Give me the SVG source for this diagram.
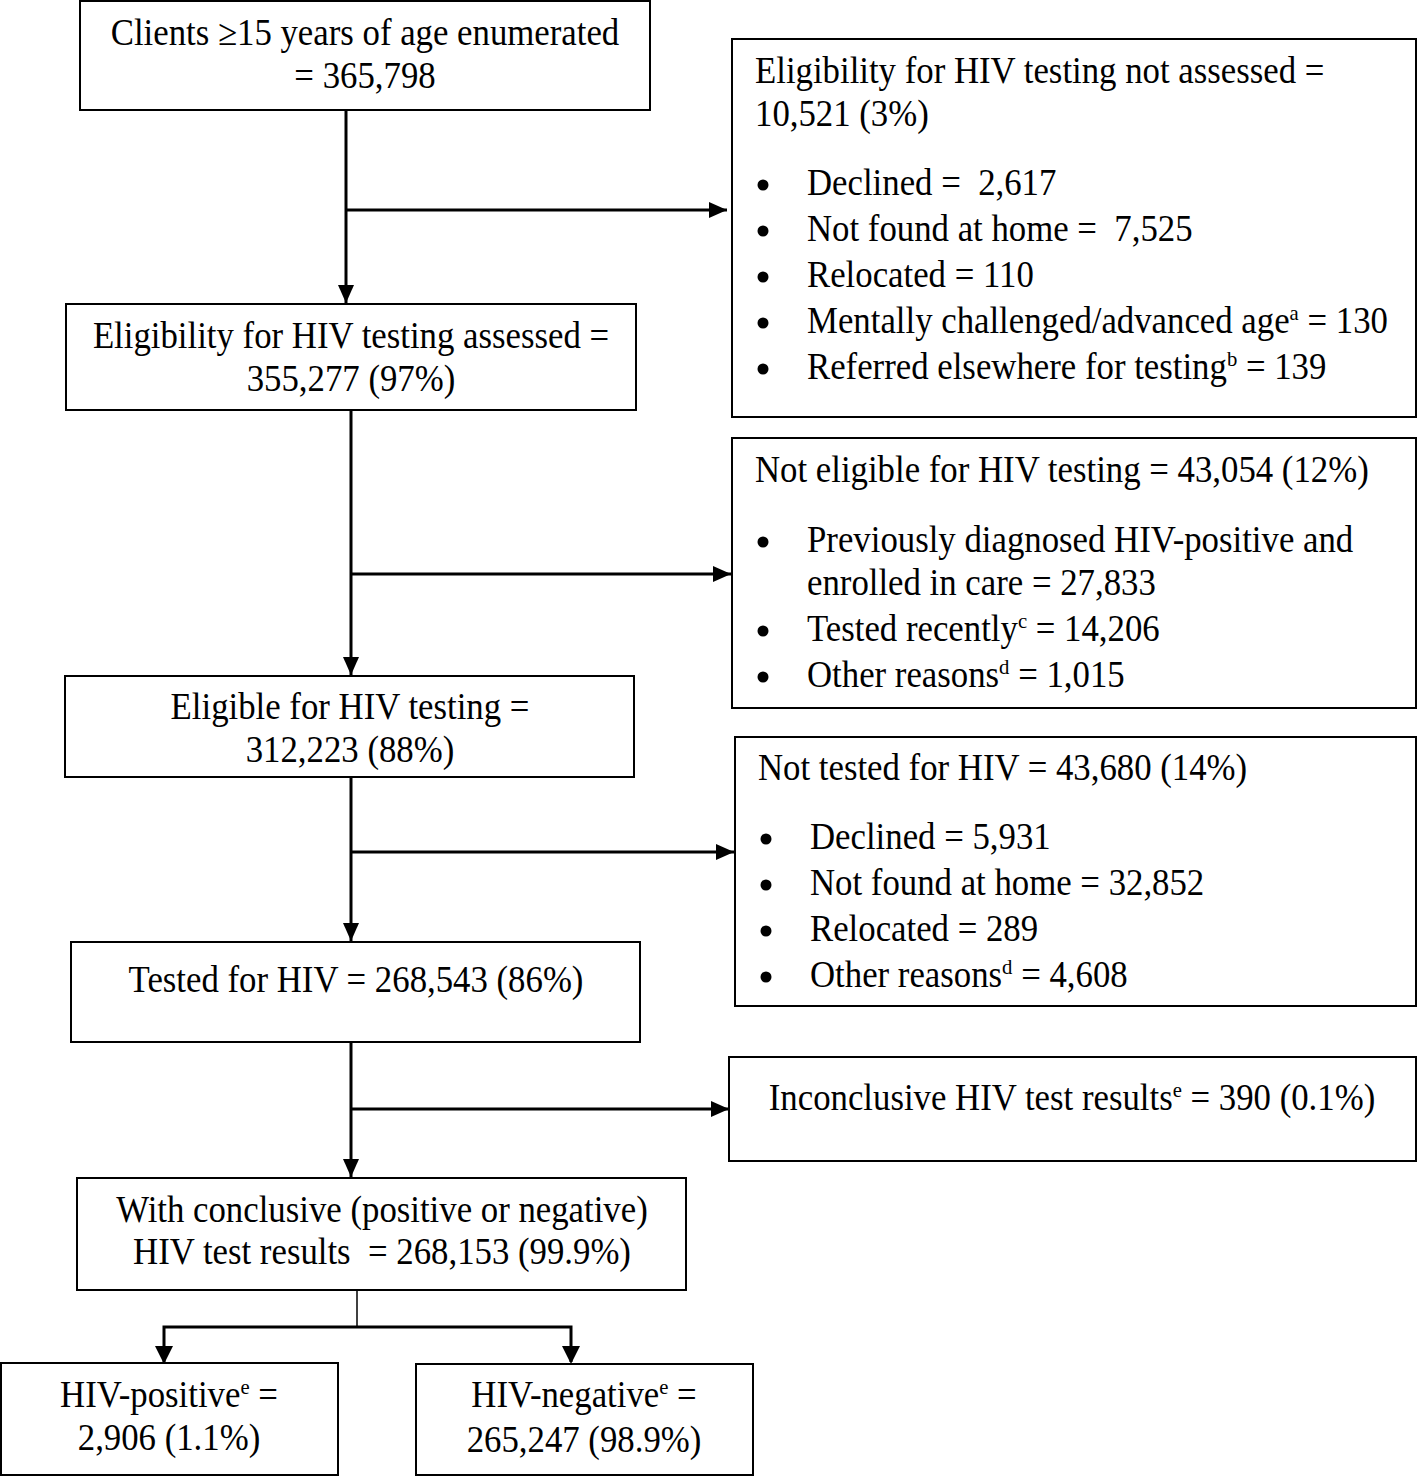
<svg xmlns="http://www.w3.org/2000/svg" width="1418" height="1477" viewBox="0 0 1418 1477">
<style>
.box{fill:#fff;stroke:#000;stroke-width:2}
text{font-family:"Liberation Serif","Times New Roman",serif;font-size:37px;fill:#000;white-space:pre}
.c{text-anchor:middle}
.sup{font-size:22px}
.con{stroke:#000;stroke-width:3;fill:none}
.thin{stroke:#000;stroke-width:1.5;fill:none}
.bul{fill:#000}
</style>
<defs>
<marker id="ah" markerUnits="userSpaceOnUse" markerWidth="20" markerHeight="16" refX="18" refY="8" orient="auto">
<path d="M0,0 L18,8 L0,16 Z" fill="#000"/>
</marker>
</defs>
<rect width="1418" height="1477" fill="#fff"/>

<g id="connectors">
<line class="con" x1="346" y1="110" x2="346" y2="303" marker-end="url(#ah)"/>
<line class="con" x1="346" y1="210" x2="727" y2="210" marker-end="url(#ah)"/>
<line class="con" x1="351" y1="410" x2="351" y2="675" marker-end="url(#ah)"/>
<line class="con" x1="351" y1="574" x2="731" y2="574" marker-end="url(#ah)"/>
<line class="con" x1="351" y1="777" x2="351" y2="941" marker-end="url(#ah)"/>
<line class="con" x1="351" y1="852" x2="734" y2="852" marker-end="url(#ah)"/>
<line class="con" x1="351" y1="1042" x2="351" y2="1177" marker-end="url(#ah)"/>
<line class="con" x1="351" y1="1109" x2="729" y2="1109" marker-end="url(#ah)"/>
<line class="thin" x1="357" y1="1290" x2="357" y2="1327"/>
<polyline class="con" points="164,1362 164,1327 571,1327 571,1362" stroke-width="2.5"/>
<path d="M155,1346 L173,1346 L164,1364 Z" fill="#000"/>
<path d="M562,1346 L580,1346 L571,1364 Z" fill="#000"/>
</g>

<g id="n1">
<rect class="box" x="80" y="1" width="570" height="109"/>
<text class="c" transform="translate(365,45) scale(0.94,1)">Clients ≥15 years of age enumerated</text>
<text class="c" transform="translate(365,88) scale(0.94,1)">= 365,798</text>
</g>

<g id="n2">
<rect class="box" x="732" y="39" width="684" height="378"/>
<text transform="translate(755,83) scale(0.94,1)">Eligibility for HIV testing not assessed =</text>
<text transform="translate(755,126) scale(0.94,1)">10,521 (3%)</text>
<circle class="bul" cx="763" cy="185" r="5.5"/><text transform="translate(807,195) scale(0.94,1)">Declined =  2,617</text>
<circle class="bul" cx="763" cy="231" r="5.5"/><text transform="translate(807,241) scale(0.94,1)">Not found at home =  7,525</text>
<circle class="bul" cx="763" cy="277" r="5.5"/><text transform="translate(807,287) scale(0.94,1)">Relocated = 110</text>
<circle class="bul" cx="763" cy="323" r="5.5"/><text transform="translate(807,333) scale(0.94,1)">Mentally challenged/advanced age<tspan class="sup" dy="-13">a</tspan><tspan dy="13"> = 130</tspan></text>
<circle class="bul" cx="763" cy="369" r="5.5"/><text transform="translate(807,379) scale(0.94,1)">Referred elsewhere for testing<tspan class="sup" dy="-13">b</tspan><tspan dy="13"> = 139</tspan></text>
</g>

<g id="n3">
<rect class="box" x="66" y="304" width="570" height="106"/>
<text class="c" transform="translate(351,348) scale(0.94,1)">Eligibility for HIV testing assessed =</text>
<text class="c" transform="translate(351,391) scale(0.94,1)">355,277 (97%)</text>
</g>

<g id="n4">
<rect class="box" x="732" y="438" width="684" height="270"/>
<text transform="translate(755,482) scale(0.94,1)">Not eligible for HIV testing = 43,054 (12%)</text>
<circle class="bul" cx="763" cy="542" r="5.5"/><text transform="translate(807,552) scale(0.94,1)">Previously diagnosed HIV-positive and</text>
<text transform="translate(807,595) scale(0.94,1)">enrolled in care = 27,833</text>
<circle class="bul" cx="763" cy="631" r="5.5"/><text transform="translate(807,641) scale(0.94,1)">Tested recently<tspan class="sup" dy="-13">c</tspan><tspan dy="13"> = 14,206</tspan></text>
<circle class="bul" cx="763" cy="677" r="5.5"/><text transform="translate(807,687) scale(0.94,1)">Other reasons<tspan class="sup" dy="-13">d</tspan><tspan dy="13"> = 1,015</tspan></text>
</g>

<g id="n5">
<rect class="box" x="65" y="676" width="569" height="101"/>
<text class="c" transform="translate(350,719) scale(0.94,1)">Eligible for HIV testing =</text>
<text class="c" transform="translate(350,762) scale(0.94,1)">312,223 (88%)</text>
</g>

<g id="n6">
<rect class="box" x="735" y="737" width="681" height="269"/>
<text transform="translate(758,780) scale(0.94,1)">Not tested for HIV = 43,680 (14%)</text>
<circle class="bul" cx="766" cy="839" r="5.5"/><text transform="translate(810,849) scale(0.94,1)">Declined = 5,931</text>
<circle class="bul" cx="766" cy="885" r="5.5"/><text transform="translate(810,895) scale(0.94,1)">Not found at home = 32,852</text>
<circle class="bul" cx="766" cy="931" r="5.5"/><text transform="translate(810,941) scale(0.94,1)">Relocated = 289</text>
<circle class="bul" cx="766" cy="977" r="5.5"/><text transform="translate(810,987) scale(0.94,1)">Other reasons<tspan class="sup" dy="-13">d</tspan><tspan dy="13"> = 4,608</tspan></text>
</g>

<g id="n7">
<rect class="box" x="71" y="942" width="569" height="100"/>
<text class="c" transform="translate(356,992) scale(0.94,1)">Tested for HIV = 268,543 (86%)</text>
</g>

<g id="n8">
<rect class="box" x="729" y="1057" width="687" height="104"/>
<text class="c" transform="translate(1072,1110) scale(0.94,1)">Inconclusive HIV test results<tspan class="sup" dy="-13">e</tspan><tspan dy="13"> = 390 (0.1%)</tspan></text>
</g>

<g id="n9">
<rect class="box" x="77" y="1178" width="609" height="112"/>
<text class="c" transform="translate(382,1222) scale(0.94,1)">With conclusive (positive or negative)</text>
<text class="c" transform="translate(382,1264) scale(0.94,1)">HIV test results  = 268,153 (99.9%)</text>
</g>

<g id="n10">
<rect class="box" x="1" y="1363" width="337" height="112"/>
<text class="c" transform="translate(169,1407) scale(0.94,1)">HIV-positive<tspan class="sup" dy="-13">e</tspan><tspan dy="13"> =</tspan></text>
<text class="c" transform="translate(169,1450) scale(0.94,1)">2,906 (1.1%)</text>
</g>

<g id="n11">
<rect class="box" x="416" y="1364" width="337" height="111"/>
<text class="c" transform="translate(584,1407) scale(0.94,1)">HIV-negative<tspan class="sup" dy="-13">e</tspan><tspan dy="13"> =</tspan></text>
<text class="c" transform="translate(584,1452) scale(0.94,1)">265,247 (98.9%)</text>
</g>
</svg>
